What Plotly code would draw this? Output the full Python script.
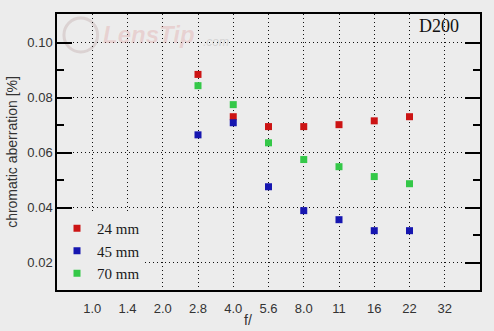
import plotly.graph_objects as go

apertures = ["1.0", "1.4", "2.0", "2.8", "4.0", "5.6", "8.0", "11", "16", "22", "32"]
f_measured = ["2.8", "4.0", "5.6", "8.0", "11", "16", "22"]
ca_24mm = [0.0885, 0.0731, 0.0695, 0.0695, 0.0702, 0.0716, 0.0731]
ca_45mm = [0.0665, 0.0709, 0.0476, 0.0389, 0.0356, 0.0316, 0.0316]
ca_70mm = [0.0844, 0.0775, 0.0636, 0.0575, 0.0549, 0.0513, 0.0487]
series_names = ["24 mm", "45 mm", "70 mm"]
series_colors = ["#cc1414", "#1616b0", "#34c848"]
y_ticks = [0.02, 0.04, 0.06, 0.08, 0.10]
y_tick_text = ["0.02", "0.04", "0.06", "0.08", "0.10"]

BG = "#ececec"
GRID_DASH = "1px,3px"
fig = go.Figure()
for name, vals, col in zip(series_names, [ca_24mm, ca_45mm, ca_70mm], series_colors):
    fig.add_trace(go.Scatter(
        x=f_measured, y=vals, mode="markers", name=name,
        marker=dict(symbol="square", size=7, color=col, line=dict(width=0)),
    ))

fig.update_layout(
    width=494, height=331,
    margin=dict(l=55, r=12, t=14, b=41),
    paper_bgcolor=BG, plot_bgcolor=BG,
    font=dict(family="Liberation Sans, Arial, sans-serif", color="#333333", size=13),
    showlegend=True,
    legend=dict(
        x=0.0, y=0.0, xanchor="left", yanchor="bottom",
        bgcolor=BG, borderwidth=0,
        font=dict(family="Liberation Serif, Times New Roman, serif", size=15, color="#1a1a1a"),
        itemsizing="trace", tracegroupgap=0,
    ),
    xaxis=dict(
        type="category", categoryorder="array", categoryarray=apertures,
        tickvals=apertures, ticktext=apertures,
        range=[-1, 11], showgrid=True, gridcolor="#111111", griddash=GRID_DASH, gridwidth=1,
        showline=True, linecolor="#000000", linewidth=1.5, mirror=True,
        ticks="", zeroline=False, tickfont=dict(size=13, color="#333333"),
        ticklabelstandoff=6,
    ),
    yaxis=dict(
        range=[0.01, 0.1105], tickvals=y_ticks, ticktext=y_tick_text,
        showgrid=True, gridcolor="#111111", griddash=GRID_DASH, gridwidth=1,
        showline=True, linecolor="#000000", linewidth=1.5, mirror="ticks",
        ticks="inside", ticklen=15, tickwidth=1.5, tickcolor="#000000",
        minor=dict(tickvals=[0.03, 0.05, 0.07, 0.09], ticks="inside", ticklen=7,
                   tickwidth=1.5, tickcolor="#000000", showgrid=False),
        zeroline=False, tickfont=dict(size=13, color="#333333"),
        title=dict(text="chromatic aberration [%]", standoff=6,
                   font=dict(size=14, color="#333333")),
    ),
    annotations=[
        dict(text="f/", xref="paper", yref="paper", x=(248 - 55) / 276 * 276 / 427, y=-30 / 276,
             xanchor="center", yanchor="middle", showarrow=False,
             font=dict(size=14, color="#333333")),
        dict(text="D200", xref="paper", yref="paper", x=(463 - 55) / 427, y=(290 - 26) / 276,
             xanchor="right", yanchor="middle", showarrow=False,
             font=dict(family="Liberation Serif, Times New Roman, serif", size=18, color="#111111")),
        dict(text="<b><i>LensTip</i></b>", xref="paper", yref="paper", x=(99 - 55) / 427, y=(290 - 34) / 276,
             xanchor="left", yanchor="middle", showarrow=False,
             font=dict(size=24, color="rgba(220,140,140,0.28)")),
        dict(text="<i>.com</i>", xref="paper", yref="paper", x=(200 - 55) / 427, y=(290 - 42) / 276,
             xanchor="left", yanchor="middle", showarrow=False,
             font=dict(size=12, color="rgba(150,150,150,0.3)")),
    ],
    shapes=[
        dict(type="circle", xref="paper", yref="paper",
             x0=(62 - 55) / 427, x1=(96 - 55) / 427, y0=(290 - 52) / 276, y1=(290 - 18) / 276,
             line=dict(color="rgba(180,150,150,0.3)", width=3), layer="below"),
    ],
)

fig.write_html("out.html")
